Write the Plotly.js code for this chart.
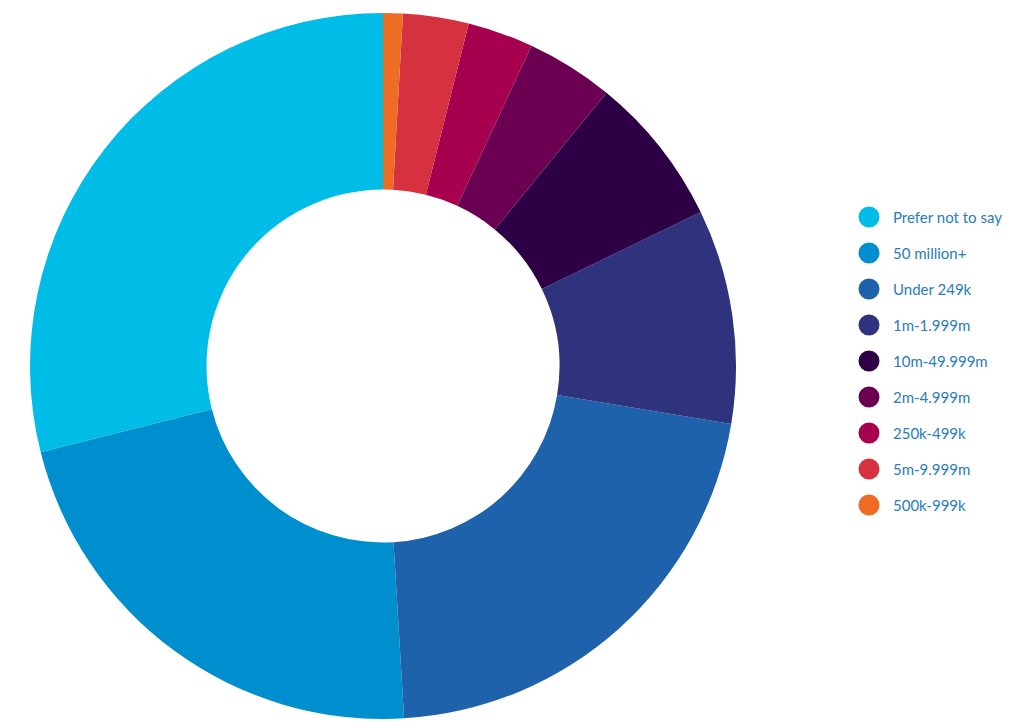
<!DOCTYPE html>
<html>
<head>
<meta charset="utf-8">
<script src="https://cdn.plot.ly/plotly-3.0.1.min.js"></script>
<style>html,body{margin:0;padding:0;background:#fff;}#chart{width:1024px;height:728px;}</style>
</head>
<body>
<div id="chart"></div>
<script>
const categories = ["Prefer not to say", "50 million+", "Under 249k", "1m-1.999m", "10m-49.999m", "2m-4.999m", "250k-499k", "5m-9.999m", "500k-999k"];
const values = [28.9, 22.0, 21.4, 9.8, 6.9, 4.0, 3.0, 3.0, 0.9];
const colors = ["#00BDE8", "#008FCE", "#1F62AC", "#2F327D", "#2D0046", "#6B0052", "#A6004F", "#D5313F", "#EE6C24"];

const W = 1024, H = 728;
const legendX = 869, legendTextX = 891, legendY0 = 217, legendStep = 36, dotR = 10.5;
const textColor = "#287CBD";

const shapes = categories.map((c, i) => ({
  type: "circle", xref: "paper", yref: "paper",
  xsizemode: "pixel", ysizemode: "pixel",
  xanchor: legendX / W, yanchor: 1 - (legendY0 + i * legendStep) / H,
  x0: -dotR, x1: dotR, y0: -dotR, y1: dotR,
  fillcolor: colors[i], line: {width: 0}
}));

const annotations = categories.map((c, i) => ({
  text: c, xref: "paper", yref: "paper",
  x: legendTextX / W, y: 1 - (legendY0 + i * legendStep) / H,
  xanchor: "left", yanchor: "middle", showarrow: false,
  font: {family: "Lato, 'Open Sans', sans-serif", size: 15, color: textColor}
}));

const total = values.reduce((a, b) => a + b, 0);
const cx = 383, cy = 366, R = 353;
const trace = {
  type: "pie",
  labels: categories,
  values: values,
  marker: {colors: colors, line: {width: 0}},
  hole: 0.5,
  sort: false,
  direction: "counterclockwise",
  rotation: -360 * values[0] / total,
  textinfo: "none",
  showlegend: false,
  domain: {x: [(cx - R) / W, (cx + R) / W], y: [(H - cy - R) / H, (H - cy + R) / H]}
};

Plotly.newPlot("chart", [trace], {
  width: W, height: H,
  margin: {l: 0, r: 0, t: 0, b: 0},
  paper_bgcolor: "#fff",
  showlegend: false,
  shapes: shapes,
  annotations: annotations
}, {displayModeBar: false, staticPlot: true});
</script>
</body>
</html>
